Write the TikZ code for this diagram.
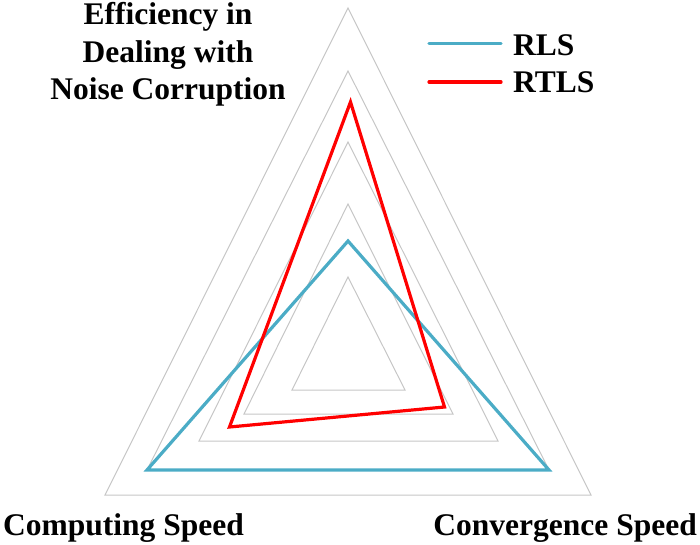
\documentclass[tikz,border=0pt]{standalone}
\usepackage{fontspec}
\setmainfont{Liberation Serif}
\definecolor{gridgray}{RGB}{198,198,198}
\definecolor{rlsblue}{RGB}{75,172,198}
\definecolor{rtlsred}{RGB}{255,0,0}
\begin{document}
\begin{tikzpicture}[x=1pt,y=-1pt,
  gridline/.style={draw=gridgray,line width=1pt,line join=miter},
  rlsline/.style={draw=rlsblue,line width=3.2pt,line join=miter},
  rtlsline/.style={draw=rtlsred,line width=3.2pt,line join=miter},
  lab/.style={font=\bfseries\fontsize{31.5}{37.5}\selectfont,inner sep=0pt}]
\useasboundingbox (0,0) rectangle (700,545);
% grid levels
\foreach \t/\l/\r/\b in {8/105/591/495, 71/147/549/470, 142/199/498/441, 204/244/453/414, 277/292/405/390}
  \draw[gridline] (348,\t) -- (\l,\b) -- (\r,\b) -- cycle;
% data points
\coordinate (rlsA) at (348,241);
\coordinate (rlsB) at (147,470);
\coordinate (rlsC) at (549,470);
\coordinate (rtlsA) at (350.5,102);
\coordinate (rtlsB) at (229.5,427);
\coordinate (rtlsC) at (444.5,407);
\draw[rlsline] (rlsA) -- (rlsB) -- (rlsC) -- cycle;
\draw[rtlsline] (rtlsA) -- (rtlsB) -- (rtlsC) -- cycle;
% axis labels
\node[lab,anchor=base] (t1) at (168,25) {Efficiency in};
\node[lab,anchor=base] (t2) at (168,63) {Dealing with};
\node[lab,anchor=base] (t3) at (168,100) {Noise Corruption};
\node[lab,anchor=base west] (cs) at (3,535) {Computing Speed};
\node[lab,anchor=base east] (cv) at (697,535) {Convergence Speed};
% legend
\coordinate (l1a) at (429,43.5);
\coordinate (l1b) at (501,43.5);
\coordinate (l2a) at (429,82);
\coordinate (l2b) at (501,82);
\draw[rlsline,line cap=round] (l1a) -- (l1b);
\draw[rtlsline,line cap=round] (l2a) -- (l2b);
\node[lab,anchor=base west] (lrls) at (513,56) {RLS};
\node[lab,anchor=base west] (lrtls) at (513,93) {RTLS};
\end{tikzpicture}
\end{document}
